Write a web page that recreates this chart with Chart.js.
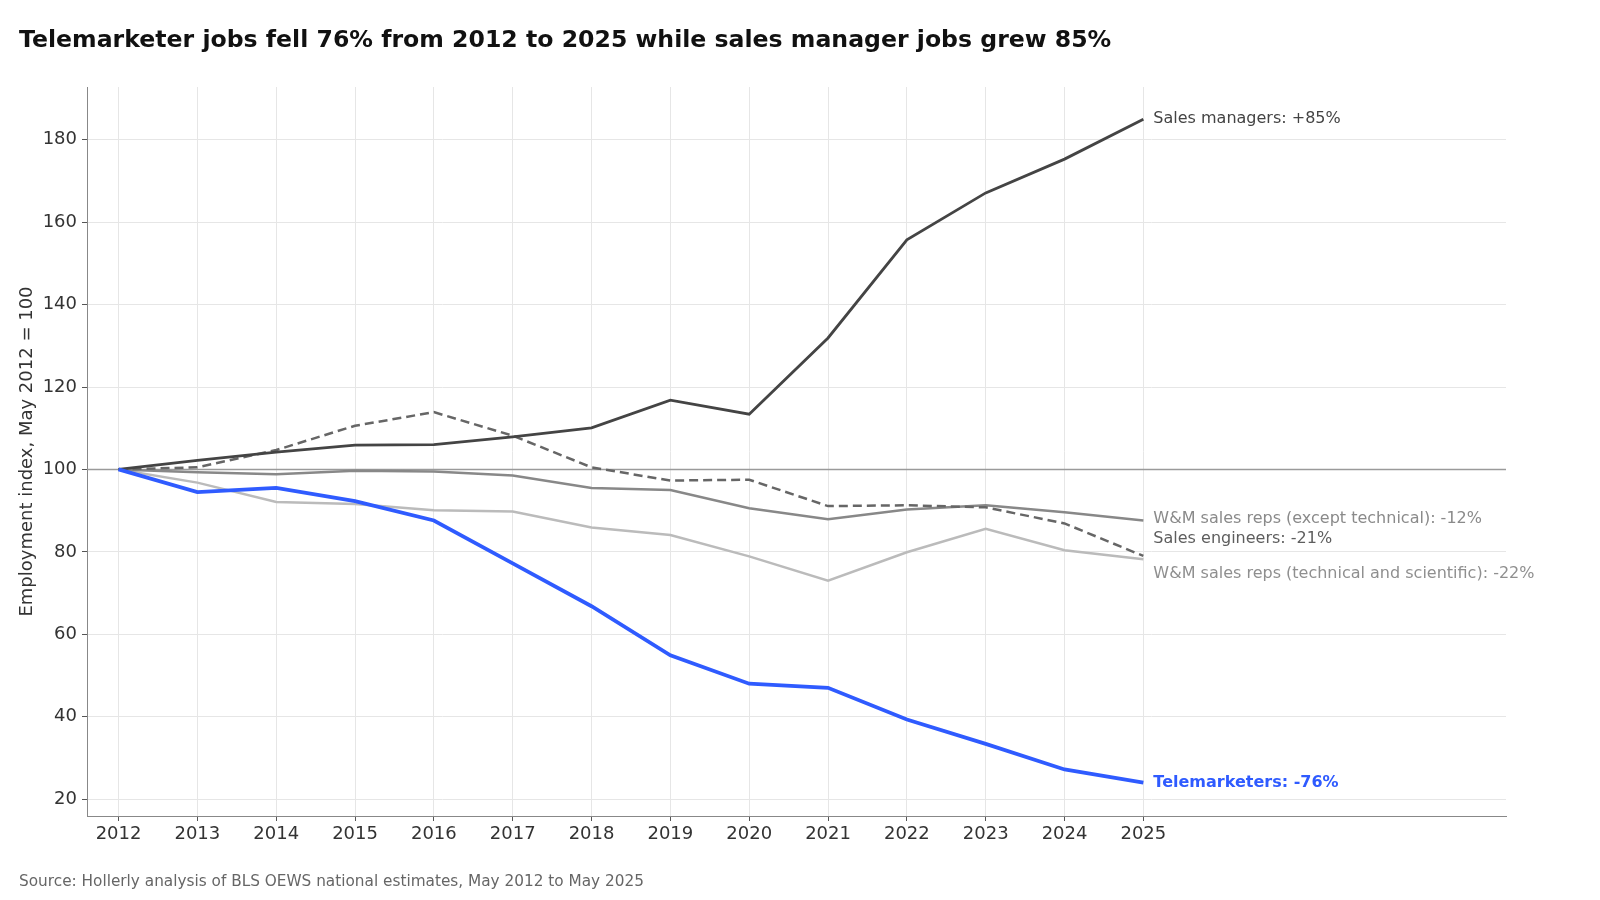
<!DOCTYPE html>
<html>
<head>
<meta charset="utf-8">
<script src="https://cdn.jsdelivr.net/npm/chart.js@4"></script>
<style>
  body { margin: 0; background: #fff; }
  #wrap { width: 1600px; height: 900px; }
</style>
</head>
<body>
<div id="wrap"><canvas id="jobsChart" width="1600" height="900"></canvas></div>
<script>
// data (index, May 2012 = 100)
const years = [2012, 2013, 2014, 2015, 2016, 2017, 2018, 2019, 2020, 2021, 2022, 2023, 2024, 2025];
const yTicks = [20, 40, 60, 80, 100, 120, 140, 160, 180];

const telemarketers = [100, 94.5, 95.5, 92.3, 87.6, 77.2, 66.8, 54.9, 48.0, 47.0, 39.3, 33.4, 27.2, 24.0];
const salesManagers = [100, 102.2, 104.2, 105.9, 106.0, 107.9, 110.1, 116.8, 113.4, 131.9, 155.7, 167.1, 175.3, 185.0];
const salesEngineers = [100, 100.5, 104.7, 110.6, 113.9, 108.2, 100.5, 97.3, 97.5, 91.1, 91.3, 90.8, 86.9, 79.0];
const wmExceptTech = [100, 99.3, 98.8, 99.7, 99.5, 98.5, 95.5, 95.0, 90.6, 87.9, 90.3, 91.3, 89.6, 87.6];
const wmTechSci = [100, 96.8, 92.1, 91.6, 90.1, 89.8, 85.9, 84.1, 78.9, 73.0, 79.9, 85.6, 80.4, 78.2];

const seriesNames = [
    'Telemarketers: -76%',
    'Sales managers: +85%',
    'Sales engineers: -21%',
    'W&M sales reps (except technical): -12%',
    'W&M sales reps (technical and scientific): -22%'
];
// where each end label sits (value on the y axis), nudged apart like the original
const labelAt = [24.0, 185.0, 83.1, 87.9, 74.7];

const font = 'DejaVu Sans';

function pts(arr) {
    return arr.map((v, i) => ({ x: years[i], y: v }));
}

const styles = [
    { color: '#2f5bff', width: 3.8, dash: [], labelColor: '#2f5bff', bold: true },
    { color: '#444444', width: 2.8, dash: [], labelColor: '#444444' },
    { color: '#666666', width: 2.5, dash: [9, 5], labelColor: '#5e5e5e' },
    { color: '#888888', width: 2.5, dash: [], labelColor: '#8a8a8a' },
    { color: '#bbbbbb', width: 2.5, dash: [], labelColor: '#8f8f8f' }
];
const values = [telemarketers, salesManagers, salesEngineers, wmExceptTech, wmTechSci];

const datasets = values.map((arr, i) => ({
    label: seriesNames[i],
    data: pts(arr),
    borderColor: styles[i].color,
    borderWidth: styles[i].width,
    borderDash: styles[i].dash,
    pointRadius: 0,
    tension: 0,
    fill: false
}));

// baseline at 100, end labels, title and source
const decor = {
    id: 'decor',
    beforeDatasetsDraw(chart) {
        const { ctx, chartArea, scales } = chart;
        const y = scales.y.getPixelForValue(100);
        ctx.save();
        ctx.strokeStyle = '#9a9a9a';
        ctx.lineWidth = 1.5;
        ctx.beginPath();
        ctx.moveTo(chartArea.left, y);
        ctx.lineTo(chartArea.right, y);
        ctx.stroke();
        ctx.restore();
    },
    afterDatasetsDraw(chart) {
        const { ctx, scales } = chart;
        const x = scales.x.getPixelForValue(years[years.length - 1]) + 10;
        ctx.save();
        ctx.textBaseline = 'middle';
        ctx.textAlign = 'left';
        seriesNames.forEach((name, i) => {
            ctx.font = (styles[i].bold ? 'bold ' : '') + '16px "' + font + '"';
            ctx.fillStyle = styles[i].labelColor;
            ctx.fillText(name, x, scales.y.getPixelForValue(labelAt[i]));
        });
        ctx.restore();
    },
    afterDraw(chart) {
        const { ctx } = chart;
        ctx.save();
        ctx.textAlign = 'left';
        ctx.textBaseline = 'middle';
        ctx.fillStyle = '#111';
        ctx.font = 'bold 23.6px "' + font + '"';
        ctx.fillText('Telemarketer jobs fell 76% from 2012 to 2025 while sales manager jobs grew 85%', 19, 40.5);
        ctx.fillStyle = '#666';
        ctx.font = '15.3px "' + font + '"';
        ctx.fillText('Source: Hollerly analysis of BLS OEWS national estimates, May 2012 to May 2025', 19, 882);
        ctx.restore();
    }
};

new Chart(document.getElementById('jobsChart'), {
    type: 'line',
    data: { datasets: datasets },
    plugins: [decor],
    options: {
        responsive: false,
        animation: false,
        layout: { padding: { left: 0, top: 87, right: 94, bottom: 0 } },
        plugins: {
            legend: { display: false },
            tooltip: { enabled: false }
        },
        scales: {
            x: {
                type: 'linear',
                min: 2011.6,
                max: 2029.6,
                afterBuildTicks(scale) {
                    scale.ticks = years.map(v => ({ value: v }));
                },
                afterFit(scale) { scale.height = 84; },
                ticks: {
                    color: '#333',
                    font: { family: font, size: 18 },
                    padding: 3,
                    maxRotation: 0,
                    callback: v => String(v)
                },
                grid: { color: '#e6e6e6', tickColor: '#555', tickLength: 5 },
                border: { color: '#888', width: 1 }
            },
            y: {
                min: 15.9,
                max: 192.8,
                afterBuildTicks(scale) {
                    scale.ticks = yTicks.map(v => ({ value: v }));
                },
                afterFit(scale) { scale.width = 87; },
                ticks: {
                    color: '#333',
                    font: { family: font, size: 18 },
                    padding: 5
                },
                grid: { color: '#e6e6e6', tickColor: '#555', tickLength: 5 },
                border: { color: '#888', width: 1 },
                title: {
                    display: true,
                    text: 'Employment index, May 2012 = 100',
                    color: '#333',
                    font: { family: font, size: 18 },
                    padding: { top: 17, bottom: 0 }
                }
            }
        }
    }
});
</script>
</body>
</html>
